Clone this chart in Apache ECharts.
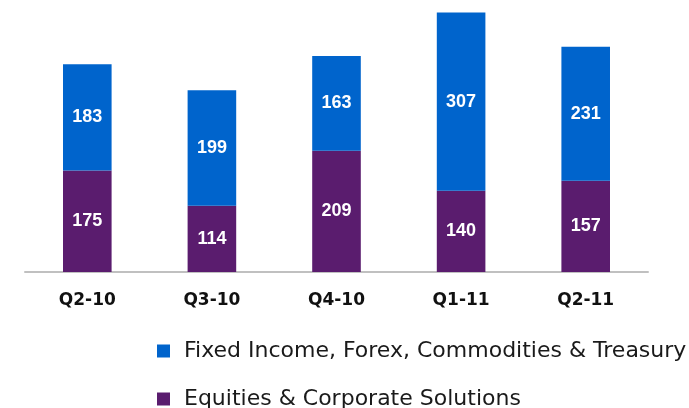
<!DOCTYPE html>
<html>
<head>
<meta charset="utf-8">
<script src="https://cdn.jsdelivr.net/npm/echarts@6/dist/echarts.min.js"></script>
<style>
  html, body { margin: 0; padding: 0; background: #fff; }
  #chart { width: 689px; height: 408px; }
</style>
</head>
<body>
<div id="chart"></div>
<script>
// 数据
const categories = ['Q2-10', 'Q3-10', 'Q4-10', 'Q1-11', 'Q2-11']
const equities = [175, 114, 209, 140, 157]
const fixedIncome = [183, 199, 163, 307, 231]
const seriesNames = ['Fixed Income, Forex, Commodities & Treasury', 'Equities & Corporate Solutions']

const chart = echarts.init(document.getElementById('chart'))

const barLabel = {
  show: true,
  position: 'inside',
  color: '#fff',
  fontFamily: 'Liberation Sans, Arial',
  fontWeight: 'bold',
  fontSize: 18
}

// 图例：每行一个
const legendStyle = (name, top) => ({
  orient: 'vertical',
  left: 157,
  top: top,
  padding: 0,
  itemWidth: 13,
  itemHeight: 13,
  icon: 'rect',
  data: [name],
  textStyle: {
    fontFamily: 'DejaVu Sans, Verdana',
    fontSize: 22,
    color: '#1a1a1a',
    padding: [0, 0, 0, 9]
  }
})

const option = {
  animation: false,
  grid: { left: 25, right: 41, top: 5, bottom: 136 },
  legend: [
    legendStyle(seriesNames[0], 340),
    legendStyle(seriesNames[1], 388)
  ],
  xAxis: {
    type: 'category',
    data: categories,
    axisLine: { show: true, lineStyle: { color: '#c0c0c0', width: 2 } },
    axisTick: { show: false },
    axisLabel: {
      margin: 20,
      color: '#111',
      fontFamily: 'DejaVu Sans, Verdana',
      fontWeight: 'bold',
      fontSize: 17
    }
  },
  yAxis: {
    type: 'value',
    min: 0,
    max: 460,
    show: false,
    splitLine: { show: false }
  },
  series: [
    {
      name: seriesNames[1],
      type: 'bar',
      stack: 'total',
      barWidth: '39%',
      itemStyle: { color: '#5a1c6e' },
      label: barLabel,
      data: equities
    },
    {
      name: seriesNames[0],
      type: 'bar',
      stack: 'total',
      barWidth: '39%',
      itemStyle: { color: '#0064cc' },
      label: barLabel,
      data: fixedIncome
    }
  ]
}
chart.setOption(option)
</script>
</body>
</html>
